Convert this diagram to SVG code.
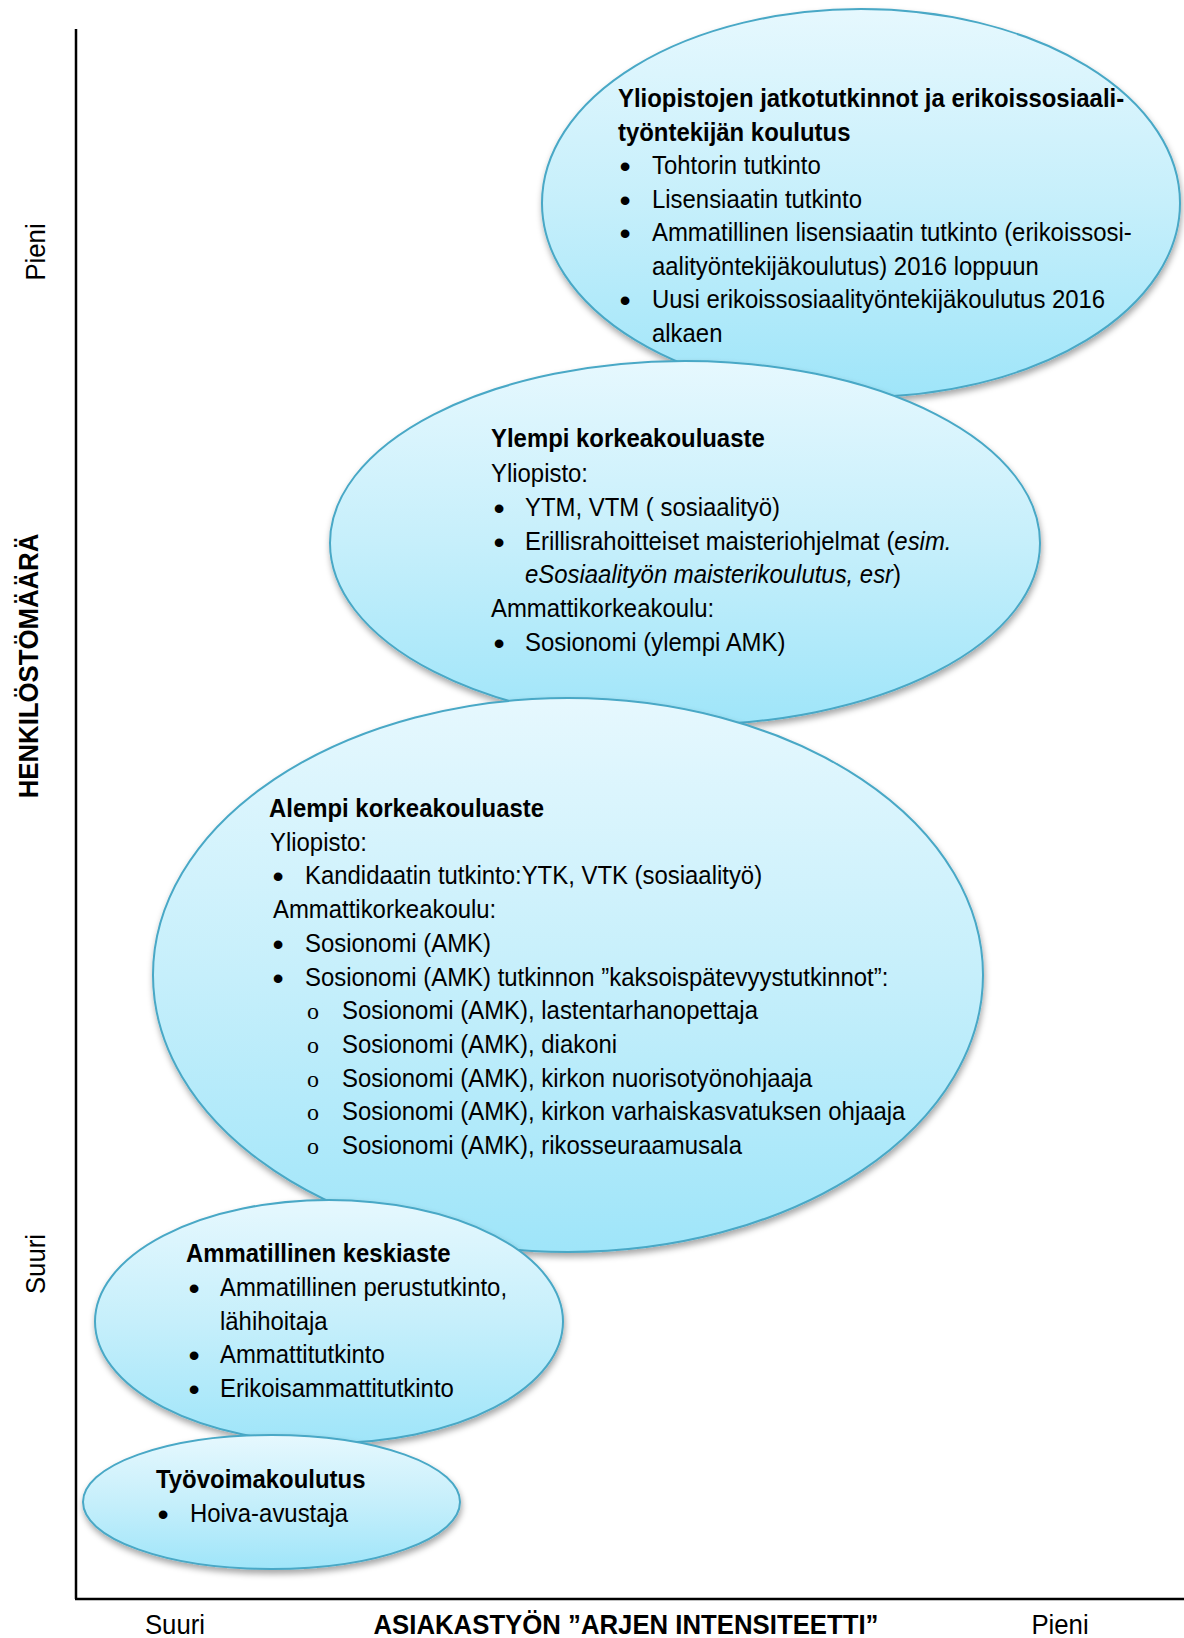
<svg xmlns="http://www.w3.org/2000/svg" width="1184" height="1638" viewBox="0 0 1184 1638">
<style>
.t{font-family:"Liberation Sans",Arial,sans-serif;font-size:26px;fill:#000}
.b{font-weight:bold}
.i{font-style:italic}
.bu{font-family:"Liberation Sans",Arial,sans-serif;font-size:32px;fill:#000;text-anchor:middle}
.o{font-family:"Liberation Serif","Times New Roman",serif;font-size:24px;fill:#000}
.ax{font-family:"Liberation Sans",Arial,sans-serif;font-size:28px;fill:#000}
.el{fill:url(#g);stroke:#48a8c6;stroke-width:2;filter:url(#sh)}
</style>
<defs>
<linearGradient id="g" x1="0" y1="0" x2="0" y2="1">
<stop offset="0" stop-color="#e6f8fe"/>
<stop offset="0.5" stop-color="#c6effb"/>
<stop offset="1" stop-color="#9fe5f9"/>
</linearGradient>
<filter id="sh" x="-10%" y="-10%" width="120%" height="125%">
<feDropShadow dx="1" dy="4" stdDeviation="3" flood-color="#000" flood-opacity="0.35"/>
</filter>
</defs>
<rect width="1184" height="1638" fill="#fff"/>

<g id="axes">
<line x1="76" y1="29" x2="76" y2="1599" stroke="#000" stroke-width="2.5"/>
<line x1="75" y1="1599" x2="1184" y2="1599" stroke="#000" stroke-width="2.5"/>
<text class="ax" text-anchor="middle" transform="translate(45,252) rotate(-90) scale(0.92,1)">Pieni</text>
<text class="ax b" text-anchor="middle" transform="translate(38,666) rotate(-90) scale(0.92,1)">HENKILÖSTÖMÄÄRÄ</text>
<text class="ax" text-anchor="middle" transform="translate(45,1264) rotate(-90) scale(0.92,1)">Suuri</text>
<text class="ax" text-anchor="middle" transform="matrix(0.92 0 0 1 175 1634)">Suuri</text>
<text class="ax b" text-anchor="middle" transform="matrix(0.92 0 0 1 626 1634)">ASIAKASTYÖN ”ARJEN INTENSITEETTI”</text>
<text class="ax" text-anchor="middle" transform="matrix(0.92 0 0 1 1060 1634)">Pieni</text>
</g>

<g id="node-jatkotutkinnot">
<ellipse class="el" cx="861" cy="203" rx="319" ry="194"/>
<text class="t b" transform="matrix(0.92 0 0 1 618 107)">Yliopistojen jatkotutkinnot ja erikoissosiaali-</text>
<text class="t b" transform="matrix(0.92 0 0 1 618 140.5)">työntekijän koulutus</text>
<text class="bu" x="625" y="177">•</text>
<text class="t" transform="matrix(0.92 0 0 1 652 174)">Tohtorin tutkinto</text>
<text class="bu" x="625" y="210.5">•</text>
<text class="t" transform="matrix(0.92 0 0 1 652 207.5)">Lisensiaatin tutkinto</text>
<text class="bu" x="625" y="244">•</text>
<text class="t" transform="matrix(0.92 0 0 1 652 241)">Ammatillinen lisensiaatin tutkinto (erikoissosi-</text>
<text class="t" transform="matrix(0.92 0 0 1 652 274.5)">aalityöntekijäkoulutus) 2016 loppuun</text>
<text class="bu" x="625" y="311">•</text>
<text class="t" transform="matrix(0.92 0 0 1 652 308)">Uusi erikoissosiaalityöntekijäkoulutus 2016</text>
<text class="t" transform="matrix(0.92 0 0 1 652 341.5)">alkaen</text>
</g>

<g id="node-ylempi">
<ellipse class="el" cx="685" cy="543" rx="355" ry="182"/>
<text class="t b" transform="matrix(0.92 0 0 1 491 447)">Ylempi korkeakouluaste</text>
<text class="t" transform="matrix(0.92 0 0 1 491 482)">Yliopisto:</text>
<text class="bu" x="499" y="519">•</text>
<text class="t" transform="matrix(0.92 0 0 1 525 516)">YTM, VTM ( sosiaalityö)</text>
<text class="bu" x="499" y="552.5">•</text>
<text class="t" transform="matrix(0.92 0 0 1 525 549.5)">Erillisrahoitteiset maisteriohjelmat (<tspan class="i">esim.</tspan></text>
<text class="t" transform="matrix(0.92 0 0 1 525 583)"><tspan class="i">eSosiaalityön maisterikoulutus, esr</tspan>)</text>
<text class="t" transform="matrix(0.92 0 0 1 491 617)">Ammattikorkeakoulu:</text>
<text class="bu" x="499" y="653.5">•</text>
<text class="t" transform="matrix(0.92 0 0 1 525 650.5)">Sosionomi (ylempi AMK)</text>
</g>

<g id="node-alempi">
<ellipse class="el" cx="568" cy="975" rx="415" ry="277"/>
<text class="t b" transform="matrix(0.92 0 0 1 269 817)">Alempi korkeakouluaste</text>
<text class="t" transform="matrix(0.92 0 0 1 270 850.7)">Yliopisto:</text>
<text class="bu" x="278" y="887.4">•</text>
<text class="t" transform="matrix(0.92 0 0 1 305 884.4)">Kandidaatin tutkinto:YTK, VTK (sosiaalityö)</text>
<text class="t" transform="matrix(0.92 0 0 1 273 918.1)">Ammattikorkeakoulu:</text>
<text class="bu" x="278" y="954.8">•</text>
<text class="t" transform="matrix(0.92 0 0 1 305 951.8)">Sosionomi (AMK)</text>
<text class="bu" x="278" y="988.5">•</text>
<text class="t" transform="matrix(0.92 0 0 1 305 985.5)">Sosionomi (AMK) tutkinnon ”kaksoispätevyystutkinnot”:</text>
<text class="o" x="307" y="1019.2">o</text>
<text class="t" transform="matrix(0.92 0 0 1 342 1019.2)">Sosionomi (AMK), lastentarhanopettaja</text>
<text class="o" x="307" y="1052.9">o</text>
<text class="t" transform="matrix(0.92 0 0 1 342 1052.9)">Sosionomi (AMK), diakoni</text>
<text class="o" x="307" y="1086.6">o</text>
<text class="t" transform="matrix(0.92 0 0 1 342 1086.6)">Sosionomi (AMK), kirkon nuorisotyönohjaaja</text>
<text class="o" x="307" y="1120.3">o</text>
<text class="t" transform="matrix(0.92 0 0 1 342 1120.3)">Sosionomi (AMK), kirkon varhaiskasvatuksen ohjaaja</text>
<text class="o" x="307" y="1154">o</text>
<text class="t" transform="matrix(0.92 0 0 1 342 1154)">Sosionomi (AMK), rikosseuraamusala</text>
</g>

<g id="node-ammatillinen">
<ellipse class="el" cx="329" cy="1321.5" rx="234" ry="121.5"/>
<text class="t b" transform="matrix(0.92 0 0 1 186 1262)">Ammatillinen keskiaste</text>
<text class="bu" x="194" y="1299">•</text>
<text class="t" transform="matrix(0.92 0 0 1 220 1296)">Ammatillinen perustutkinto,</text>
<text class="t" transform="matrix(0.92 0 0 1 220 1329.5)">lähihoitaja</text>
<text class="bu" x="194" y="1366">•</text>
<text class="t" transform="matrix(0.92 0 0 1 220 1363)">Ammattitutkinto</text>
<text class="bu" x="194" y="1400">•</text>
<text class="t" transform="matrix(0.92 0 0 1 220 1397)">Erikoisammattitutkinto</text>
</g>

<g id="node-tyovoimakoulutus">
<ellipse class="el" cx="271.5" cy="1502" rx="188.5" ry="67"/>
<text class="t b" transform="matrix(0.92 0 0 1 156 1488)">Työvoimakoulutus</text>
<text class="bu" x="163" y="1525">•</text>
<text class="t" transform="matrix(0.92 0 0 1 190 1522)">Hoiva-avustaja</text>
</g>

<g id="connectors"/>
</svg>
